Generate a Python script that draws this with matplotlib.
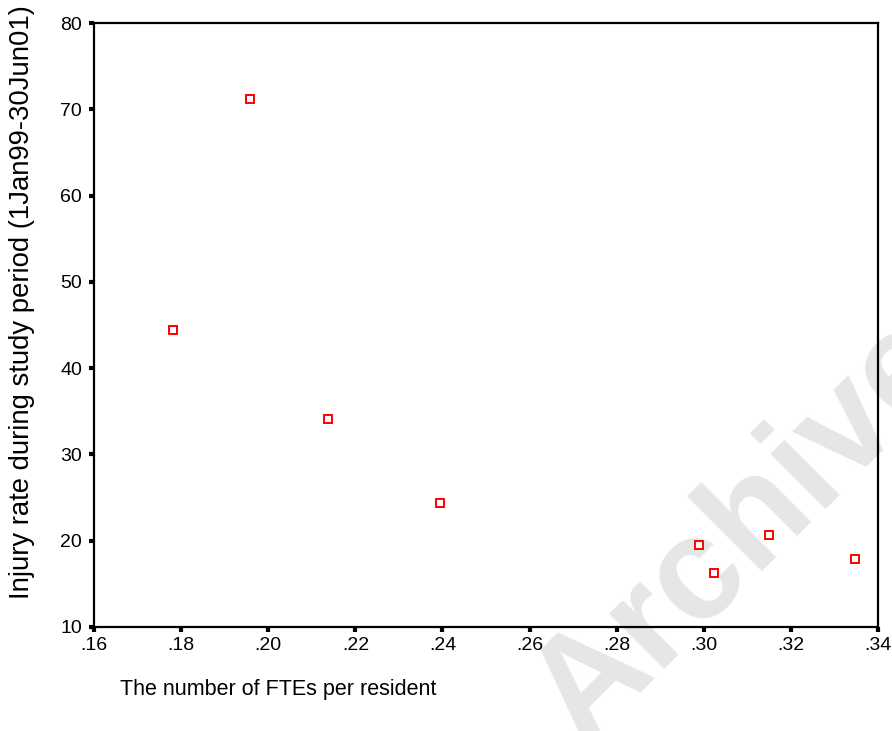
import matplotlib
matplotlib.use("Agg")
import matplotlib.pyplot as plt

# Data
fte_per_resident = [0.1782, 0.1957, 0.2138, 0.2395, 0.2988, 0.3024, 0.3149, 0.3347]
injury_rate = [44.4, 71.2, 34.1, 24.4, 19.5, 16.3, 20.7, 17.9]
x_ticks = [0.16, 0.18, 0.20, 0.22, 0.24, 0.26, 0.28, 0.30, 0.32, 0.34]
x_tick_labels = [".16", ".18", ".20", ".22", ".24", ".26", ".28", ".30", ".32", ".34"]
y_ticks = [10, 20, 30, 40, 50, 60, 70, 80]

plt.rcParams['font.family'] = ['Liberation Sans', 'DejaVu Sans']

fig = plt.figure(figsize=(8.92, 7.31), dpi=100)
ax = fig.add_axes([0.1054, 0.1423, 0.8789, 0.8262])
ax.patch.set_alpha(0)

# watermark
fig.text(583 / 892, 1 - 747 / 731, "Archive", fontsize=105, fontweight='bold', color='#e6e6e6',
         rotation=45, ha='left', va='baseline', rotation_mode='anchor', zorder=-1)

ax.plot(fte_per_resident, injury_rate, linestyle='none', marker='s', markersize=6.3,
        markerfacecolor='white', markeredgecolor='#ff0000', markeredgewidth=1.4, zorder=3)

ax.set_xlim(0.16, 0.34)
ax.set_ylim(10, 80)
ax.set_xticks(x_ticks)
ax.set_xticklabels(x_tick_labels)
ax.set_yticks(y_ticks)
for s in ax.spines.values():
    s.set_linewidth(1.6)
ax.tick_params(direction='out', length=3.5, width=3, labelsize=14)
ax.tick_params(axis='x', pad=4)
ax.tick_params(axis='y', pad=5)

fig.text(22 / 892, 1 - 302 / 731, "Injury rate during study period (1Jan99-30Jun01)",
         fontsize=19.8, rotation=90, ha='center', va='center')
fig.text(120 / 892, 1 - 690 / 731, "The number of FTEs per resident", fontsize=15.5,
         ha='left', va='center')

fig.savefig("out.png", dpi=100)
